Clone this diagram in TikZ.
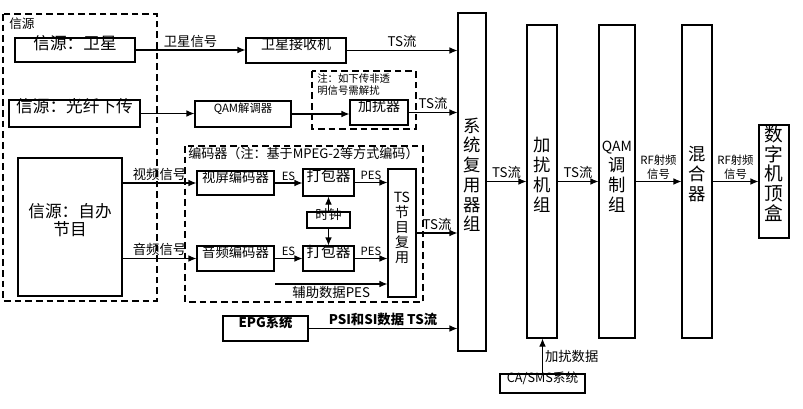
\documentclass[tikz,border=0pt]{standalone}
\usepackage{fontspec}
\setmainfont{Noto Sans CJK SC}
\usetikzlibrary{arrows.meta,fit,positioning}

\newcommand\fsBig{\fontsize{12.5}{13}\selectfont}
\newcommand\fsMid{\fontsize{10}{12}\selectfont}
\newcommand\fsSml{\fontsize{8.5}{10}\selectfont}
\newcommand\fsCol{\fontsize{13}{14.8}\selectfont}

\tikzset{
  box/.style={draw, line width=0.8pt, inner sep=0pt, align=center, font=\fsMid},
  one/.style={text height=0.85em, text depth=0.12em},
  grp/.style={draw, line width=0.8pt, dash pattern=on 5pt off 3pt},
  sig/.style={line width=0.8pt, -{Latex[length=6pt,width=5pt]}},
  lbl/.style={font=\fsMid, inner sep=1.5pt},
  tiny/.style={font=\fsSml, inner sep=1.5pt, align=center},
}

\begin{document}
\begin{tikzpicture}[x=0.75pt,y=-0.75pt]
\useasboundingbox (0,0) rectangle (803,408);

% dashed groups
\draw[grp] (3,14) rectangle (157,301);
\node[anchor=north west, inner sep=0pt, font=\fontsize{9.5}{11}\selectfont] (srctag) at (9,18) {信源};
\draw[grp] (185,146) rectangle (423,302);
\node[anchor=north west, inner sep=0pt, font=\fontsize{9.8}{11}\selectfont] (enctag) at (188,147) {编码器（注：基于MPEG-2等方式编码）};
\draw[grp] (312,71) rectangle (416,129);
\node[anchor=north west, inner sep=0pt, font=\fontsize{7.8}{9}\selectfont, align=left] (notetag) at (317,73) {注：如下传非透\\明信号需解扰};

% sources
\node[box, one, font=\fsBig, fit={(15,38) (135,62)}] (sat) {信源：卫星};
\node[box, one, font=\fsBig, fit={(9,100) (140,127)}] (fiber) {信源：光纤下传};
\node[box, font=\fsBig, fit={(18,158) (122,296)}] (self) {信源：自办\\节目};

% front end
\node[box, one, font=\fontsize{10.5}{12}\selectfont, fit={(246,38) (346,63)}] (satrx) {卫星接收机};
\node[box, one, font=\fsSml, fit={(195,101) (291,127)}] (qamd) {QAM解调器};
\node[box, one, font=\fontsize{10.5}{12}\selectfont, fit={(350,100) (408,125)}] (scr) {加扰器};

% encoder
\node[box, one, fit={(197,171) (274,195)}] (venc) {视屏编码器};
\node[box, one, fit={(197,246) (274,271)}] (aenc) {音频编码器};
\node[box, one, font=\fontsize{11}{13}\selectfont, fit={(303,169) (354,196)}] (pk1) {打包器};
\node[box, one, font=\fontsize{11}{13}\selectfont, fit={(303,246) (354,271)}] (pk2) {打包器};
\node[box, one, font=\fontsize{9.8}{11}\selectfont, fit={(307,212) (350,228)}] (clk) {时钟};
\node[box, font=\fontsize{10.5}{11.3}\selectfont, fit={(388,169) (416,297)}] (tsm) {TS\\节\\目\\复\\用};
\coordinate (aux) at (275,284);

\node[box, one, font=\fsMid\bfseries, fit={(223,316) (308,341)}] (epg) {EPG系统};

% head end chain
\node[box, font=\fsCol, fit={(458,13) (486,351)}] (mux) {系\\统\\复\\用\\器\\组};
\node[box, font=\fontsize{13}{15}\selectfont, fit={(527,25) (557,338)}] (scrg) {加\\扰\\机\\组};
\node[box, font=\fontsize{13}{15}\selectfont, fit={(599,25) (635,338)}] (qamg) {{\fontsize{10.5}{15}\selectfont QAM}\\调\\制\\组};
\node[box, font=\fontsize{13}{15}\selectfont, fit={(682,25) (712,338)}] (mix) {混\\合\\器};
\node[box, font=\fontsize{14}{14.8}\selectfont, fit={(759,125) (789,238)}] (stb) {数\\字\\机\\顶\\盒};
\node[box, one, font=\fontsize{9.5}{11}\selectfont, fit={(500,374) (585,393)}] (ca) {CA/SMS系统};

% connectors
\draw[sig] (sat.east) -- (sat.east -| satrx.west) node[midway, above, lbl] {卫星信号};
\draw[sig] (satrx.east) -- (satrx.east -| mux.west) node[midway, above, lbl] {TS流};
\draw[sig] (fiber.east) -- (fiber.east -| qamd.west);
\draw[sig] (qamd.east) -- (qamd.east -| scr.west);
\draw[sig] (scr.east) -- (scr.east -| mux.west) node[midway, above, lbl] {TS流};

\draw[sig] (venc.west -| self.east) -- (venc.west) node[midway, above, lbl] {视频信号};
\draw[sig] (aenc.west -| self.east) -- (aenc.west) node[midway, above, lbl] {音频信号};
\draw[sig] (venc.east) -- (venc.east -| pk1.west) node[midway, above, tiny] {ES};
\draw[sig] (aenc.east) -- (aenc.east -| pk2.west) node[midway, above, tiny] {ES};
\draw[sig] (clk.north) -- (clk.north |- pk1.south);
\draw[sig] (clk.south) -- (clk.south |- pk2.north);
\draw[sig] (pk1.east) -- (pk1.east -| tsm.west) node[midway, above, tiny] {PES};
\draw[sig] (pk2.east) -- (pk2.east -| tsm.west) node[midway, above, tiny] {PES};
\draw[sig] (aux) -- (aux -| tsm.west) node[midway, below, lbl] {辅助数据PES};
\draw[sig] (tsm.east) -- (tsm.east -| mux.west) node[midway, above, lbl] {TS流};
\draw[sig] (epg.east) -- (epg.east -| mux.west) node[midway, above, lbl, font=\fsMid\bfseries] {PSI和SI数据 TS流};

\draw[sig] (mux.east |- scrg.west) -- (scrg.west) node[midway, above, lbl] {TS流};
\draw[sig] (scrg.east) -- (scrg.east -| qamg.west) node[midway, above, lbl] {TS流};
\draw[sig] (qamg.east) -- (qamg.east -| mix.west) node[midway, above, tiny] {RF射频\\信号};
\draw[sig] (mix.east) -- (mix.east -| stb.west) node[midway, above, tiny] {RF射频\\信号};
\draw[sig] (ca.north) -- (ca.north |- scrg.south) node[midway, right, lbl] {加扰数据};
\end{tikzpicture}
\end{document}
